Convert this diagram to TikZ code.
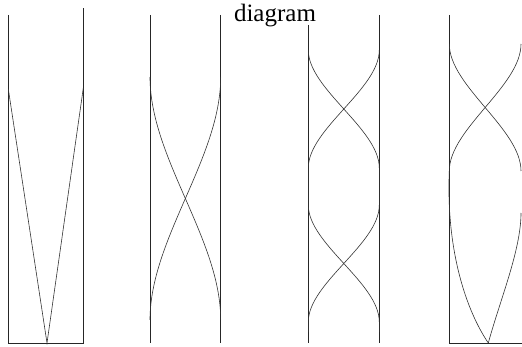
\documentclass[tikz,border=0pt]{standalone}
\usepackage{fontspec}
\setmainfont{Liberation Serif}
\tikzset{
  wall/.style={line width=0.7pt, draw=black!85},
  ray/.style={line width=0.6pt, draw=black!80},
  label/.style={font=\fontsize{25}{30}\selectfont, inner sep=0pt, anchor=base},
}
\begin{document}
\begin{tikzpicture}[x=1pt, y=-1pt]
  \useasboundingbox (0,0) rectangle (522,347);
  \node[label] (title) at (275,21.7) {diagram};
  % panel 1: straight rays
  \draw[wall] (8.3,15) -- (8.3,343) -- (83.3,343) -- (83.3,8);
  \draw[ray] (8.3,89) -- (47,343) -- (83.3,88);
  % panel 2: one crossing
  \draw[wall] (150,15) -- (150,343);
  \draw[wall] (220.7,15) -- (220.7,343);
  \draw[ray] (150,77) .. controls +(0,81) and +(0,-81) .. (220.7,320);
  \draw[ray] (220.7,77) .. controls +(0,81) and +(0,-81) .. (150,320);
  % panel 3: two crossings
  \draw[wall] (308.3,25) -- (308.3,343);
  \draw[wall] (379.3,15) -- (379.3,343);
  \draw[ray] (308.3,50) .. controls +(0,39) and +(0,-39) .. (379.3,168) -- (379.3,205)
    .. controls +(0,39) and +(0,-39) .. (308.3,322) -- (308.3,332);
  \draw[ray] (379.3,50) .. controls +(0,39) and +(0,-39) .. (308.3,168) -- (308.3,205)
    .. controls +(0,39) and +(0,-39) .. (379.3,322) -- (379.3,332);
  % panel 4: crossing, then focus at the bottom
  \draw[wall] (449.3,15) -- (449.3,343) -- (522,343);
  \draw[ray] (521,44) .. controls +(0,42) and +(0,-42) .. (449.3,171)
    .. controls (446,250) and (466,310) .. (488.3,343);
  \draw[ray] (449.3,44) .. controls +(0,42) and +(0,-42) .. (521,171);
  \draw[ray] (521,213) .. controls (521,250) and (500,300) .. (488.3,343);
\end{tikzpicture}
\end{document}
